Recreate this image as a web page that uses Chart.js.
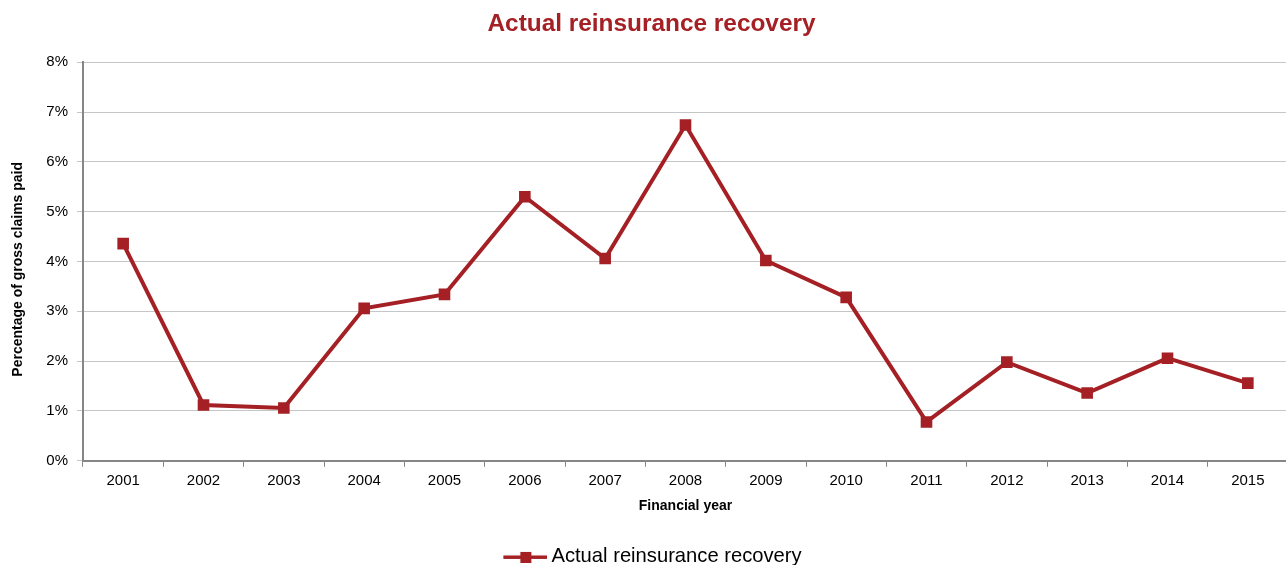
<!DOCTYPE html>
<html>
<head>
<meta charset="utf-8">
<title>Actual reinsurance recovery</title>
<script src="https://cdn.jsdelivr.net/npm/chart.js@4.4.0/dist/chart.umd.min.js"></script>
<style>
  html, body { margin: 0; padding: 0; background: #fff; overflow: hidden; }
  #wrap { width: 1286px; height: 565px; overflow: hidden; }
</style>
</head>
<body>
<!-- the original picture is cropped on the right, so the canvas is a bit wider than the window -->
<div id="wrap"><canvas id="recoveryChart" width="1303" height="565"></canvas></div>
<script>
const years = ["2001", "2002", "2003", "2004", "2005", "2006", "2007", "2008",
  "2009", "2010", "2011", "2012", "2013", "2014", "2015"];
const recovery = [4.36, 1.12, 1.06, 3.06, 3.34, 5.30, 4.06, 6.74,
  4.02, 3.28, 0.78, 1.98, 1.36, 2.06, 1.56];
const yTicks = [0, 1, 2, 3, 4, 5, 6, 7, 8];

const red = "#A52024";
const font = "'Liberation Sans', Arial, sans-serif";

// legend marker: line with a square in the middle
const marker = document.createElement("canvas");
marker.width = 52;
marker.height = 12;
const mctx = marker.getContext("2d");
mctx.fillStyle = red;
mctx.fillRect(8, 4.5, 44, 3.5);
mctx.fillRect(25, 1, 11, 11);

const ctx = document.getElementById("recoveryChart").getContext("2d");

new Chart(ctx, {
  type: "line",
  data: {
    labels: years,
    datasets: [
      {
        label: "Actual reinsurance recovery",
        data: recovery,
        borderColor: red,
        backgroundColor: red,
        borderWidth: 4,
        tension: 0,
        pointStyle: "rect",
        pointRadius: 8.2,
        pointBorderWidth: 0,
        pointBackgroundColor: red,
      },
    ],
  },
  options: {
    responsive: false,
    animation: false,
    layout: { padding: { left: 0, right: 0, top: 0, bottom: -12 } },
    scales: {
      x: {
        offset: true,
        grid: {
          offset: true,
          drawOnChartArea: false,
          tickLength: 6,
          tickColor: "#868686",
          tickWidth: 1,
        },
        border: { color: "#868686", width: 2 },
        ticks: { color: "#000", font: { family: font, size: 15 }, padding: 5 },
        title: {
          display: true,
          text: "Financial year",
          color: "#000",
          font: { family: font, size: 14, weight: "bold" },
          padding: { top: 2, bottom: 22 },
        },
        afterFit: (scale) => {
          scale.height = 76;
          scale.paddingLeft = 0;
          scale.paddingRight = 15; // plot ends just past the visible edge
        },
      },
      y: {
        min: 0,
        max: 8,
        afterBuildTicks: (scale) => { scale.ticks = yTicks.map(v => ({ value: v })); },
        grid: { color: "#c6c6c6", lineWidth: 1, tickLength: 6, tickColor: "#c6c6c6" },
        border: { color: "#868686", width: 2 },
        ticks: {
          color: "#000",
          font: { family: font, size: 15 },
          padding: 9,
          callback: (v) => v + "%",
        },
        title: {
          display: true,
          text: "Percentage of gross claims paid    ",
          color: "#000",
          font: { family: font, size: 14, weight: "bold" },
          padding: { top: 10, bottom: 0 },
        },
        afterFit: (scale) => { scale.width = 83; },
      },
    },
    plugins: {
      title: {
        display: true,
        text: "Actual reinsurance recovery",
        color: red,
        font: { family: font, size: 24.4, weight: "bold" },
        padding: { top: 10, bottom: 23 },
      },
      legend: {
        position: "bottom",
        labels: {
          color: "#000",
          font: { family: font, size: 20.2 },
          usePointStyle: true,
          pointStyle: marker,
          pointStyleWidth: 40,
          padding: 10,
        },
      },
      tooltip: { enabled: false },
    },
  },
});
</script>
</body>
</html>
